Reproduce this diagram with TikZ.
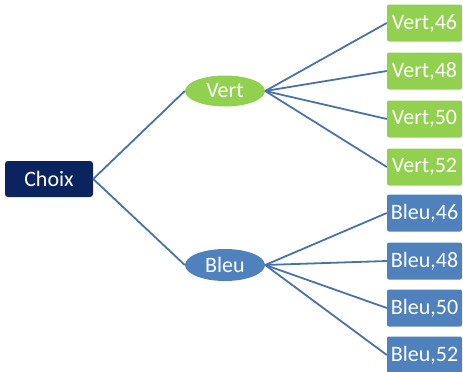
\documentclass[tikz,border=0pt]{standalone}
\usepackage{fontspec}
\setmainfont{Carlito}
\usetikzlibrary{shapes.geometric}
\definecolor{navy}{HTML}{0B2460}
\definecolor{grn}{HTML}{92D050}
\definecolor{blu}{HTML}{4F81BD}
\definecolor{edgec}{HTML}{4A72A8}
\begin{document}
\begin{tikzpicture}[x=1pt,y=-1pt,
  every node/.style={text=white,font=\fontsize{22}{24}\selectfont},
  root/.style={fill=navy,rounded corners=3pt,minimum width=88pt,minimum height=36pt,inner sep=0pt},
  midv/.style={ellipse,fill=grn,minimum width=80pt,minimum height=31pt,inner sep=0pt},
  midb/.style={ellipse,fill=blu,minimum width=80pt,minimum height=32pt,inner sep=0pt},
  leafv/.style={fill=grn,rounded corners=2pt,minimum width=75pt,minimum height=37pt,inner sep=0pt},
  leafb/.style={fill=blu,rounded corners=2pt,minimum width=75pt,minimum height=37pt,inner sep=0pt},
  conn/.style={draw=edgec,line width=1.8pt}]
\useasboundingbox (0,0) rectangle (463,372);
\node[root] (c) at (49,179) {Choix};
\node[midv] (v) at (225,91) {Vert};
\node[midb] (b) at (225,265) {Bleu};
\node[leafv] (v46) at (424.5,23) {Vert,46};
\node[leafv] (v48) at (424.5,71) {Vert,48};
\node[leafv] (v50) at (424.5,119) {Vert,50};
\node[leafv] (v52) at (424.5,167) {Vert,52};
\node[leafb] (b46) at (424.5,213) {Bleu,46};
\node[leafb] (b48) at (424.5,261) {Bleu,48};
\node[leafb] (b50) at (424.5,308) {Bleu,50};
\node[leafb] (b52) at (424.5,355) {Bleu,52};
\draw[conn] (c.east) -- (v.west);
\draw[conn] (c.east) -- (b.west);
\foreach \n in {v46,v48,v50,v52} \draw[conn] (v.east) -- (\n.west);
\foreach \n in {b46,b48,b50,b52} \draw[conn] (b.east) -- (\n.west);
\end{tikzpicture}
\end{document}
